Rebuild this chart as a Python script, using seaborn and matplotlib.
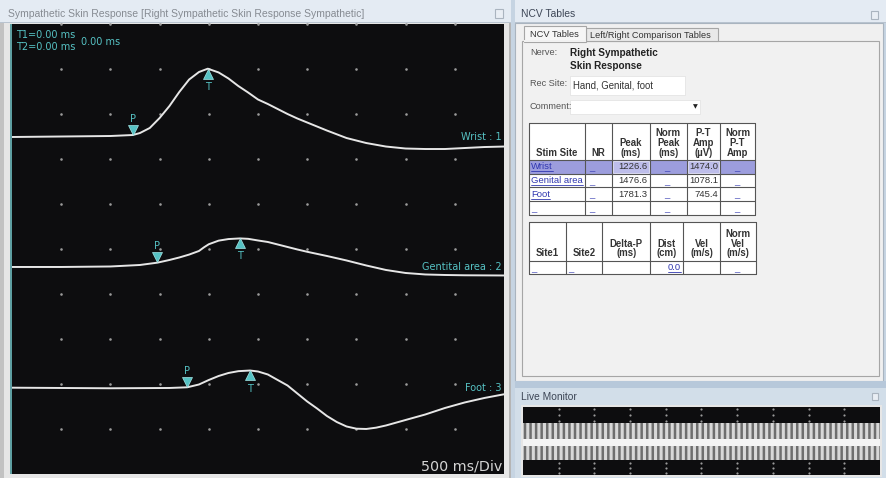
import matplotlib
matplotlib.use("Agg")
import matplotlib.pyplot as plt
from matplotlib.patches import Rectangle
import pandas as pd
import seaborn as sns

# ---------------- recorded waveforms (latency ms, amplitude µV relative to P) ----------------
wrist_t = [0, 500, 1000, 1226.6, 1300, 1400, 1500, 1600, 1700, 1800, 1900, 1990, 2100, 2200,
           2300, 2400, 2500, 2600, 2700, 2800, 2900, 3000, 3200, 3400, 3600, 3800, 4000, 4200,
           4400, 4600, 4800, 5000]
wrist_uv = [-44, -33, -22, 0, 44, 156, 378, 644, 956, 1233, 1400, 1474.0, 1390, 1256,
            1089, 944, 789, 689, 578, 467, 367, 278, 100, -67, -178, -256, -300, -311,
            -311, -289, -267, -256]

genital_t = [0, 500, 1000, 1300, 1476.6, 1600, 1700, 1800, 1900, 1950, 2000, 2100, 2200, 2317,
             2400, 2500, 2600, 2700, 2800, 2900, 3000, 3200, 3400, 3600, 3800, 4000, 4200,
             4400, 4600, 5000]
genital_uv = [-191, -191, -169, -102, 0, 120, 231, 360, 520, 680, 820, 980, 1050, 1078.1,
              1060, 987, 920, 809, 698, 587, 484, 298, 98, -124, -324, -458, -524,
              -547, -560, -569]

foot_t = [0, 1000, 1600, 1781.3, 1900, 2000, 2100, 2200, 2300, 2419, 2500, 2600, 2700, 2800,
          2900, 3000, 3100, 3200, 3300, 3400, 3500, 3600, 3700, 3800, 4000, 4200, 4400, 4600,
          4800, 5000]
foot_uv = [-18, -44, -31, 0, 124, 324, 502, 636, 716, 745.4, 702, 569, 324, 80,
           -276, -631, -942, -1275, -1542, -1742, -1840, -1853, -1795, -1698, -1453, -1209,
           -920, -675, -476, -311]

# ---------------- NCV table contents ----------------
stim_sites = ["Wrist", "Genital area", "Foot"]
trace_labels = ["Wrist : 1", "Gentital area : 2", "Foot : 3"]
peak_ms = [1226.6, 1476.6, 1781.3]
pt_amp_uv = [1474.0, 1078.1, 745.4]
t_latency_ms = [1990.0, 2317.0, 2419.0]
dist_cm = [0.0]

# display settings
sens_uv_per_div = [1000, 2000, 2000]
trace_level_div = [7.533, 4.696, 1.927]
ms_per_div = 500

W, H = 886, 478
TEAL = "#56c2c4"
TRACE = "#e6e6e6"

sns.set_theme(style="white")
plt.rcParams["font.family"] = ["DejaVu Sans"]

fig = plt.figure(figsize=(W / 100, H / 100), dpi=100)
fig.patch.set_facecolor("#c6d4e2")

# pixel-space layers for the window chrome
bg = fig.add_axes([0, 0, 1, 1], zorder=0)
bg.set_xlim(0, W); bg.set_ylim(H, 0); bg.axis("off")
fg = fig.add_axes([0, 0, 1, 1], zorder=5)
fg.set_xlim(0, W); fg.set_ylim(H, 0); fg.axis("off"); fg.patch.set_alpha(0)

UI = ["Liberation Sans", "DejaVu Sans"]


def box(a, x0, y0, x1, y1, fc, ec="none", lw=0.0, z=1, **kw):
    a.add_patch(Rectangle((x0, y0), x1 - x0, y1 - y0, facecolor=fc, edgecolor=ec,
                          linewidth=lw, zorder=z, **kw))


def txt(a, x, y, s, size=7, color="#333333", ha="left", va="center", weight="normal",
        family=None, z=3, **kw):
    return a.text(x, y, s, fontsize=size, color=color, ha=ha, va=va, fontweight=weight,
                  family=family or UI, zorder=z, **kw)


# ---------------- left window: waveform display ----------------
box(bg, 0, 0, 511, 23, "#e4ebf3")
box(bg, 0, 22, 511, 23, "#b9c4d0")
txt(bg, 8, 13.5, "Sympathetic Skin Response [Right Sympathetic Skin Response Sympathetic]",
    size=7.45, color="#868b92")
box(bg, 495, 9, 503, 18, "#e9eef4", ec="#aab4bf", lw=0.8)
box(bg, 0, 23, 511, 478, "#e6e6e6")
box(bg, 0, 23, 4, 478, "#c2c2c2")
box(bg, 509, 23, 511, 478, "#b5b5b5")
box(bg, 10, 24, 13, 474, "#5e9fa2")

ax = fig.add_axes([12 / W, (H - 474) / H, 492 / W, 450 / H], zorder=2)
ax.set_facecolor("#0d0d0f")
ax.set_xlim(0, 10 * ms_per_div)
ax.set_ylim(0, 10)
ax.set_xticks([]); ax.set_yticks([])
for s in ax.spines.values():
    s.set_visible(False)

# division dots
gx, gy = [], []
for i in range(1, 10):
    for j in range(1, 11):
        gx.append(i * ms_per_div)
        gy.append(j)
sns.scatterplot(x=gx, y=gy, s=3.5, color="#9a9a9a", linewidth=0, ax=ax, zorder=1,
                clip_on=False)

series = [(wrist_t, wrist_uv), (genital_t, genital_uv), (foot_t, foot_uv)]
frames = []
for k, (t, uv) in enumerate(series):
    frames.append(pd.DataFrame({
        "t": t,
        "div": [trace_level_div[k] + v / sens_uv_per_div[k] for v in uv],
        "site": stim_sites[k],
    }))
waves = pd.concat(frames, ignore_index=True)
sns.lineplot(data=waves, x="t", y="div", hue="site", estimator=None, sort=False,
             palette={s: TRACE for s in stim_sites}, linewidth=1.4, legend=False, ax=ax,
             zorder=3)

for k in range(3):
    base = trace_level_div[k]
    t_level = base + pt_amp_uv[k] / sens_uv_per_div[k]
    ax.plot(peak_ms[k], base + 0.12, marker="v", ms=6.5, color=TEAL, mec="#a5e6e6",
            mew=0.5, zorder=4)
    ax.text(peak_ms[k], base + 0.36, "P", color=TEAL, fontsize=7, ha="center",
            va="center", zorder=4)
    ax.plot(t_latency_ms[k], t_level - 0.11, marker="^", ms=6.5, color=TEAL,
            mec="#a5e6e6", mew=0.5, zorder=4)
    ax.text(t_latency_ms[k], t_level - 0.40, "T", color=TEAL, fontsize=7, ha="center",
            va="center", zorder=4)
    first_level = base + series[k][1][0] / sens_uv_per_div[k]
    ax.text(4978, first_level, trace_labels[k], color=TEAL, fontsize=7, ha="right",
            va="center", zorder=4)

txt(fg, 16, 35, "T1=0.00 ms", size=7, color=TEAL, family=["DejaVu Sans"])
txt(fg, 16, 46.5, "T2=0.00 ms", size=7, color=TEAL, family=["DejaVu Sans"])
txt(fg, 81.5, 41.5, "0.00 ms", size=7, color=TEAL, family=["DejaVu Sans"])
txt(fg, 502, 467, f"{ms_per_div} ms/Div", size=10.3, color="#d4d4d4", ha="right",
    family=["DejaVu Sans"])

# ---------------- right window: NCV tables ----------------
box(bg, 515, 0, 886, 23, "#e4ebf3")
box(bg, 515, 22, 886, 23, "#b9c4d0")
txt(bg, 521, 14, "NCV Tables", size=7.4, color="#3d4656")
box(bg, 871.5, 11, 878.5, 18.5, "#e9eef4", ec="#aab4bf", lw=0.8)
box(bg, 515, 23, 883, 381, "#f0f0f0", ec="#a9b4bf", lw=0.8)
box(bg, 522, 40.5, 879, 375.5, "#f1f1f1", ec="#a6a6a6", lw=0.8)
box(bg, 586, 28, 718, 41, "#e9e9e9", ec="#a6a6a6", lw=0.8, z=2)
box(bg, 524, 25.5, 586, 41.5, "#f6f6f6", ec="#a6a6a6", lw=0.8, z=2)
box(bg, 524.4, 40, 585.6, 42, "#f1f1f1", z=2.5)
txt(bg, 530, 34, "NCV Tables", size=6.7, color="#333333")
txt(bg, 590, 35, "Left/Right Comparison Tables", size=6.6, color="#333333")

txt(bg, 530, 52.5, "Nerve:", size=6.6, color="#555555")
txt(bg, 570, 52.5, "Right Sympathetic", size=7.2, weight="bold", color="#222222")
txt(bg, 570, 65.5, "Skin Response", size=7.2, weight="bold", color="#222222")
txt(bg, 530, 83.5, "Rec Site:", size=6.6, color="#555555")
box(bg, 570, 76, 685, 95, "white", ec="#e4e4e4", lw=0.6)
txt(bg, 573, 85, "Hand, Genital, foot", size=6.9, color="#333333")
txt(bg, 530, 106.5, "Comment:", size=6.6, color="#555555")
box(bg, 570, 99.5, 700, 114, "white", ec="#e4e4e4", lw=0.6)
txt(bg, 695, 107, "▼", size=4.5, color="#222222", ha="center",
    family=["DejaVu Sans"])

renderer = fig.canvas.get_renderer()
LINK = "#3138b0"
FS = 6.8


def link(x, y, s, ha="left"):
    t = txt(bg, x, y, s, size=FS, color=LINK, ha=ha)
    bb = t.get_window_extent(renderer)
    bg.plot([bb.x0, bb.x1], [y + 4.4, y + 4.4], color=LINK, lw=0.6, zorder=3)


def grid(cols, rows):
    for c in cols:
        bg.plot([c, c], [rows[0], rows[-1]], color="#555555", lw=0.8, zorder=2.5)
    for r in rows:
        bg.plot([cols[0], cols[-1]], [r, r], color="#555555", lw=0.8, zorder=2.5)


# stimulation table
cols1 = [529, 585, 611.7, 650, 686.7, 720, 755]
rows1 = [122.7, 159.5, 173.7, 187.2, 201.2, 215]
box(bg, cols1[0], rows1[0], cols1[-1], rows1[-1], "white")
box(bg, cols1[0], rows1[1], cols1[-1], rows1[2], "#9c9ddd")
box(bg, cols1[2] + 1, rows1[1] + 1, cols1[3] - 1, rows1[2] - 1, "#bdbdea", ec="#e8e8f8",
    lw=0.6, z=1.5)
box(bg, cols1[4] + 1, rows1[1] + 1, cols1[5] - 1, rows1[2] - 1, "#bdbdea", ec="#e8e8f8",
    lw=0.6, z=1.5)
grid(cols1, rows1)
heads1 = ["Stim Site", "NR", "Peak\n(ms)", "Norm\nPeak\n(ms)", "P-T\nAmp\n(µV)",
          "Norm\nP-T\nAmp"]
for k, h in enumerate(heads1):
    txt(bg, (cols1[k] + cols1[k + 1]) / 2, 157.5, h, size=6.9, weight="bold",
        color="#333333", ha="center", va="bottom", linespacing=0.98)
for r in range(4):
    yc = (rows1[r + 1] + rows1[r + 2]) / 2
    if r < 3:
        link(531, yc, stim_sites[r])
        txt(bg, cols1[3] - 2.5, yc, f"{peak_ms[r]:.1f}", size=FS, ha="right")
        txt(bg, cols1[5] - 2, yc, f"{pt_amp_uv[r]:.1f}", size=FS, ha="right")
    else:
        txt(bg, 531, yc + 1, "_", size=FS, color=LINK)
    txt(bg, 589, yc + 1, "_", size=FS, color=LINK)
    txt(bg, 667, yc + 1, "_", size=FS, color=LINK, ha="center")
    txt(bg, 737, yc + 1, "_", size=FS, color=LINK, ha="center")

# conduction table
cols2 = [529, 565.7, 602.3, 650, 683.3, 720, 755.7]
rows2 = [222.3, 260.5, 274.3]
box(bg, cols2[0], rows2[0], cols2[-1], rows2[-1], "white")
grid(cols2, rows2)
heads2 = ["Site1", "Site2", "Delta-P\n(ms)", "Dist\n(cm)", "Vel\n(m/s)", "Norm\nVel\n(m/s)"]
for k, h in enumerate(heads2):
    txt(bg, (cols2[k] + cols2[k + 1]) / 2, 258.5, h, size=6.9, weight="bold",
        color="#333333", ha="center", va="bottom", linespacing=0.98)
yc = (rows2[1] + rows2[2]) / 2
txt(bg, 531, yc + 1, "_", size=FS, color=LINK)
txt(bg, 568, yc + 1, "_", size=FS, color=LINK)
link(681, yc, f"{dist_cm[0]:.1f}", ha="right")
txt(bg, 737, yc + 1, "_", size=FS, color=LINK, ha="center")

# ---------------- live monitor ----------------
box(bg, 515, 381, 886, 388, "#b7c8da")
box(bg, 515, 388, 886, 478, "#d2dee9")
txt(bg, 521.5, 396.5, "Live Monitor", size=7.4, color="#3d4656")
box(bg, 872.5, 393, 878.5, 400, "#e9eef4", ec="#aab4bf", lw=0.8)
box(bg, 521, 405, 882, 477, "#e6e6e6")
box(bg, 523, 407, 880, 475, "#0d0d0f", z=1.2)
plt.rcParams["hatch.linewidth"] = 1.8
box(bg, 523, 423, 880, 439, "#d8d8d8", ec="#6e6e6e", z=1.4, hatch="|||")
box(bg, 523, 439, 880, 446, "#f4f4f4", z=1.4)
box(bg, 523, 446, 880, 460, "#d8d8d8", ec="#6e6e6e", z=1.4, hatch="|||")
lx, ly = [], []
for i in range(1, 10):
    for yy in (409, 415, 420.7, 462.7, 468, 472.7):
        lx.append(523 + i * 35.7)
        ly.append(yy)
bg.scatter(lx, ly, s=2.5, color="#9a9a9a", linewidths=0, zorder=1.6)

fig.savefig("out.png", dpi=100, facecolor=fig.get_facecolor())
